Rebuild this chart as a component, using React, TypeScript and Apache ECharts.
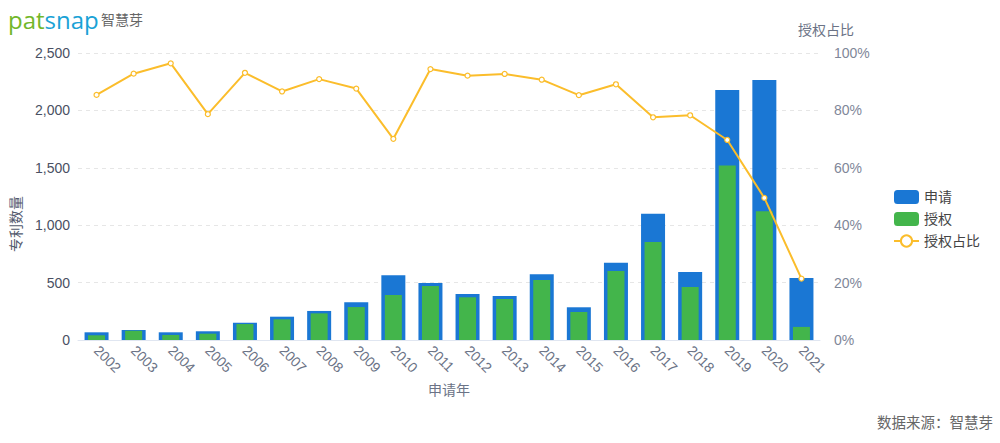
import React, { useEffect, useRef } from "react";
import * as echarts from "echarts";

const years = ["2002","2003","2004","2005","2006","2007","2008","2009","2010","2011","2012","2013","2014","2015","2016","2017","2018","2019","2020","2021"];
const applications = [67, 87, 67, 76, 151, 203, 253, 328, 563, 496, 401, 383, 572, 285, 673, 1100, 592, 2178, 2265, 540];
const grants = [41, 81, 44, 55, 139, 180, 232, 287, 392, 470, 372, 357, 523, 244, 601, 854, 462, 1519, 1121, 114];
const grantRatio = [85.4, 92.8, 96.4, 78.7, 93.1, 86.6, 90.9, 87.6, 70.1, 94.4, 92.1, 92.7, 90.7, 85.3, 89.1, 77.6, 78.3, 69.7, 49.5, 21.4];
const leftTicks = { min: 0, max: 2500, interval: 500 };
const rightTicks = { min: 0, max: 100, interval: 20 };

const FONT = "'Liberation Sans', 'Noto Sans CJK SC', sans-serif";

export default function App() {
  const ref = useRef<HTMLDivElement>(null);
  useEffect(() => {
    document.body.style.margin = "0";
    if (!ref.current) return;
    const chart = echarts.init(ref.current, null, { renderer: "svg" });
    chart.setOption({
      animation: false,
      textStyle: { fontFamily: FONT },
      grid: { left: 78, right: 180, top: 53, bottom: 103, containLabel: false },
      legend: {
        orient: "vertical",
        left: 893,
        top: 190,
        padding: 0,
        itemWidth: 25,
        itemHeight: 14,
        itemGap: 8,
        textStyle: { fontSize: 14, color: "#444", fontFamily: FONT },
        data: [
          { name: "申请", icon: "roundRect" },
          { name: "授权", icon: "roundRect" },
          { name: "授权占比" },
        ],
      },
      xAxis: [
        {
          type: "category",
          data: years,
          name: "申请年",
          nameLocation: "middle",
          nameGap: 43,
          nameTextStyle: { color: "#6b7386", fontSize: 14, fontFamily: FONT },
          axisLine: { lineStyle: { color: "#e0e6f1" } },
          axisTick: { show: false },
          axisLabel: { rotate: -45, color: "#6b7386", fontSize: 14, margin: 8, interval: 0 },
        },
        {
          type: "category",
          data: years,
          show: false,
        },
      ],
      yAxis: [
        {
          type: "value",
          ...leftTicks,
          axisLine: { show: false },
          axisTick: { show: false },
          axisLabel: {
            color: "#4a5063",
            fontSize: 14,
            margin: 8,
            formatter: (v: number) => v.toLocaleString("en-US"),
          },
          splitLine: { lineStyle: { color: "#e6e6e6", type: [4, 4] } },
        },
        {
          type: "value",
          ...rightTicks,
          name: "授权占比",
          nameGap: 16,
          nameTextStyle: { color: "#6b7386", fontSize: 14, padding: [0, 0, 0, 12] },
          axisLine: { show: false },
          axisTick: { show: false },
          axisLabel: { color: "#7f8799", fontSize: 14, margin: 14, formatter: "{value}%" },
          splitLine: { show: false },
        },
      ],
      series: [
        {
          name: "申请",
          type: "bar",
          xAxisIndex: 0,
          yAxisIndex: 0,
          barWidth: 24,
          data: applications,
          itemStyle: { color: "#1a77d4" },
        },
        {
          name: "授权",
          type: "bar",
          xAxisIndex: 1,
          yAxisIndex: 0,
          barWidth: 17,
          data: grants,
          itemStyle: { color: "#43b54b" },
        },
        {
          name: "授权占比",
          type: "line",
          xAxisIndex: 0,
          yAxisIndex: 1,
          data: grantRatio,
          symbol: "circle",
          symbolSize: 5,
          z: 5,
          itemStyle: { color: "#fff", borderColor: "#fbbd2b", borderWidth: 1.2 },
          lineStyle: { color: "#fbbd2b", width: 2 },
        },
      ],
      graphic: [
        {
          type: "text",
          left: 8,
          top: 7,
          style: {
            rich: {
              g: { fill: "#72b72a", fontSize: 24, fontFamily: "'Open Sans', 'DejaVu Sans', sans-serif" },
              b: { fill: "#1aa2d6", fontSize: 24, fontFamily: "'Open Sans', 'DejaVu Sans', sans-serif" },
            },
            text: "{g|pat}{b|snap}",
          },
        },
        {
          type: "text",
          left: 101,
          top: 12,
          style: { text: "智慧芽", fill: "#666", fontSize: 14, fontFamily: "'Noto Sans CJK SC', sans-serif" },
        },
        {
          type: "text",
          x: 15,
          y: 224,
          rotation: Math.PI / 2,
          style: {
            text: "专利数量",
            fill: "#525a6e",
            fontSize: 14,
            align: "center",
            verticalAlign: "middle",
            fontFamily: "'Noto Sans CJK SC', sans-serif",
          },
        },
        {
          type: "text",
          right: 7,
          top: 414,
          style: { text: "数据来源：智慧芽", fill: "#666", fontSize: 14.5, fontFamily: "'Noto Sans CJK SC', sans-serif" },
        },
      ],
    });
    return () => chart.dispose();
  }, []);
  return <div ref={ref} style={{ width: 1000, height: 443 }} />;
}
